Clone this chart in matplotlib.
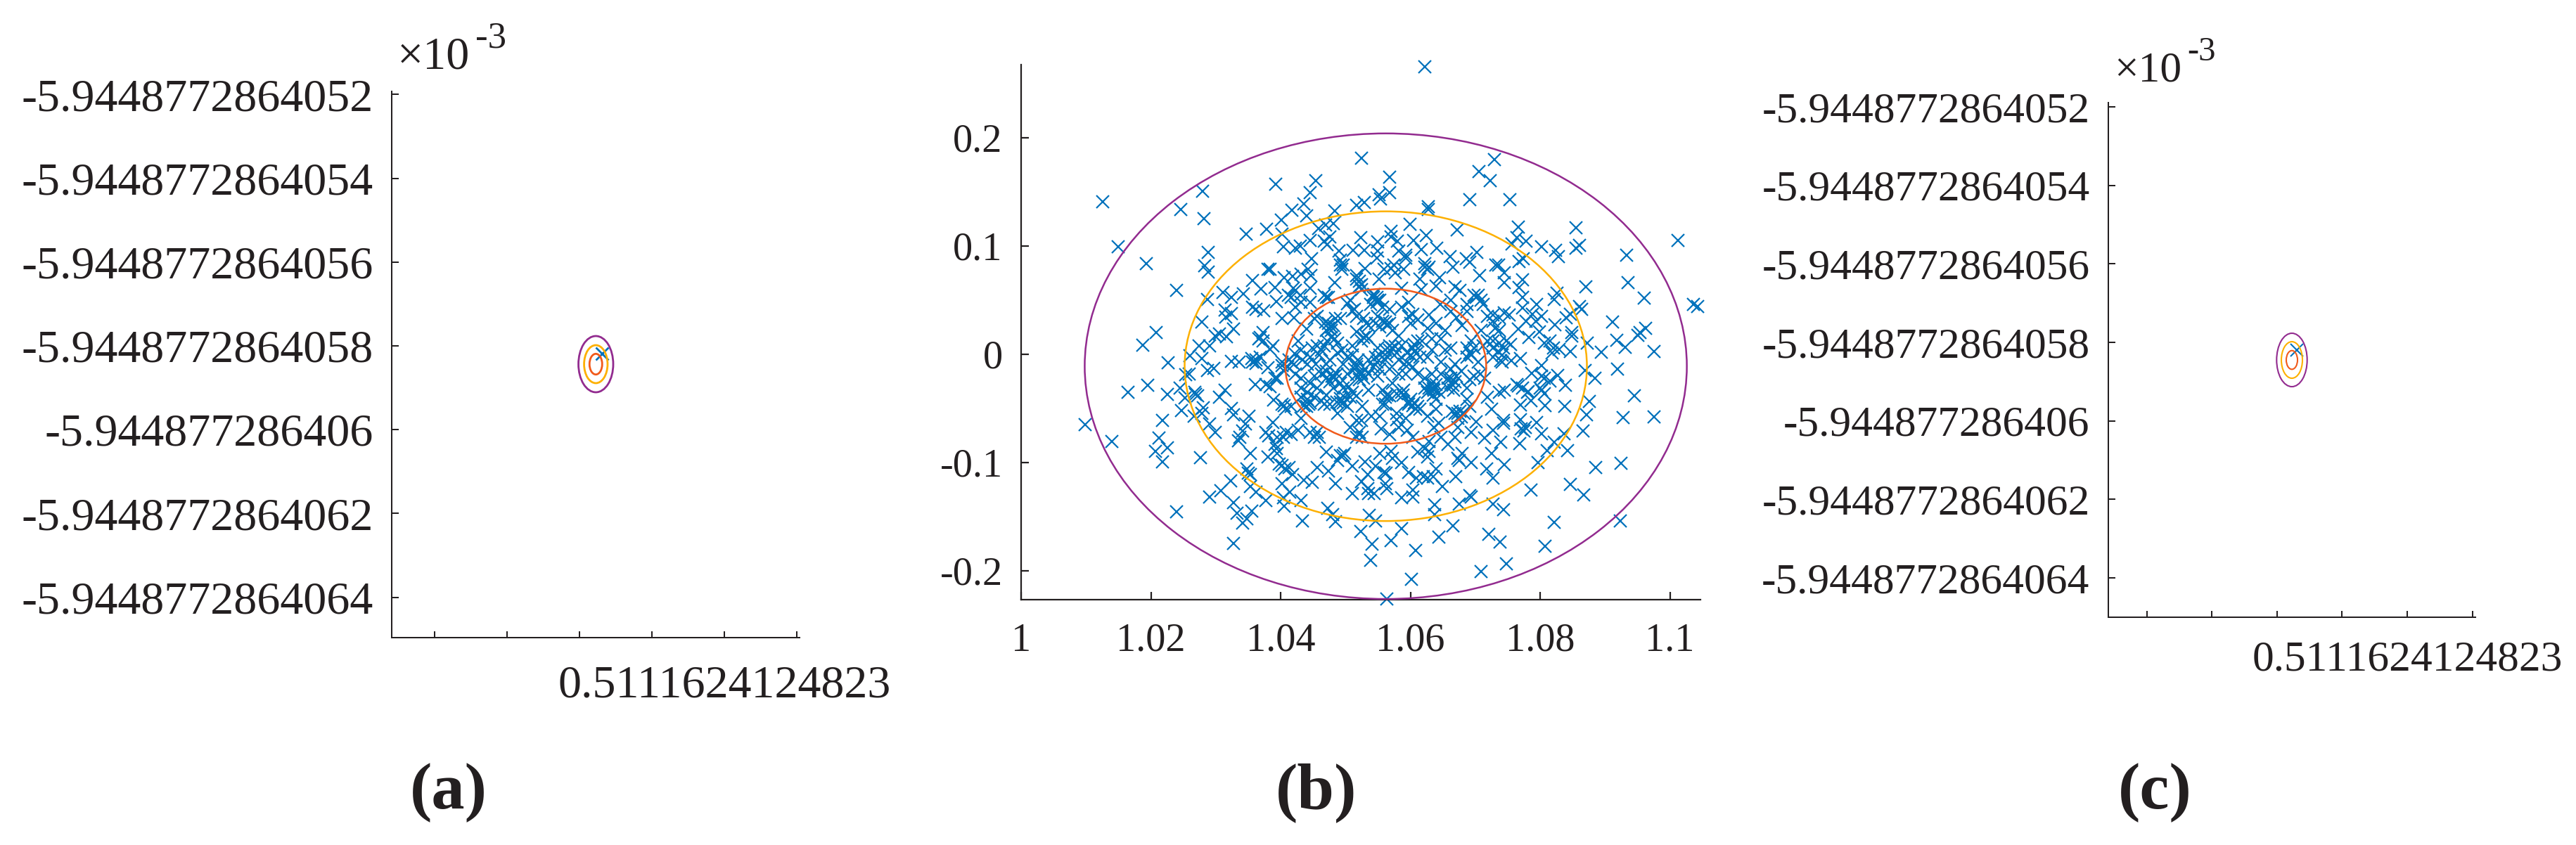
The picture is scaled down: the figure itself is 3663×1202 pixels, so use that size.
import numpy as np
import matplotlib
matplotlib.use('Agg')
import matplotlib.pyplot as plt
from matplotlib.patches import Ellipse

W, H = 3663, 1202
FONTE = ['Liberation Serif', 'DejaVu Serif']
PRETO = '#231F20'
AZUL = '#0072BC'
ROXO = '#922B8F'
AMARELO = '#FDB000'
LARANJA = '#F15A1B'

# paineis (a) e (c): eixos com rotulos fixos, valores relativos ao tick central
y_tick_vals = [6, 4, 2, 0, -2, -4, -6]
y_tick_labels = ['-5.9448772864052', '-5.9448772864054', '-5.9448772864056', '-5.9448772864058',
                 '-5.944877286406', '-5.9448772864062', '-5.9448772864064']
x_tick_vals = [-4, -3, -2, -1, 0, 1]
x_tick_labels = ['', '', '', '', '0.5111624124823', '']

centro_a = (-1.774, -0.436)
larguras_a = [0.480, 0.324, 0.175]
alturas_a = [1.342, 0.906, 0.493]
ponto_a = (-1.689, -0.185)

centro_c = (-1.771, -0.448)
larguras_c = [0.469, 0.324, 0.173]
alturas_c = [1.361, 0.931, 0.476]
ponto_c = (-1.695, -0.197)

# painel (b)
x_ticks_b = [1, 1.02, 1.04, 1.06, 1.08, 1.1]
x_labels_b = ['1', '1.02', '1.04', '1.06', '1.08', '1.1']
y_ticks_b = [0.2, 0.1, 0, -0.1, -0.2]
y_labels_b = ['0.2', '0.1', '0', '-0.1', '-0.2']
centro_b = (1.0562, -0.011)
larguras_b = [0.0928, 0.062, 0.03096]
alturas_b = [0.430, 0.286, 0.1432]

pontos_cima_esq = [
    (1.0126, .1406), (1.0150, .0991), (1.0193, .0837), (1.0280, .1504), (1.0246, .1335), (1.0282, .1250),
    (1.0288, .0941), (1.0283, .0815), (1.0288, .0757), (1.0239, .0588), (1.0287, .0508), (1.0279, .0296),
    (1.0208, .0203), (1.0392, .1569), (1.0401, .1242), (1.0378, .1155), (1.0347, .1107), (1.0402, .1107),
    (1.0404, .0995), (1.0380, .0787), (1.0384, .0783), (1.0357, .0679), (1.0370, .0605), (1.0391, .0616),
    (1.0405, .0707), (1.0311, .0571), (1.0324, .0523), (1.0342, .0560), (1.0393, .0486), (1.0357, .0436),
    (1.0362, .0415), (1.0374, .0404), (1.0314, .0410), (1.0324, .0378), (1.0315, .0345), (1.0402, .0328),
    (1.0327, .0231), (1.0373, .0198), (1.0306, .0187),
]
pontos_cima_meio = [
    (1.0622, .2656), (1.0525, .1811), (1.0568, .1638), (1.0454, .1601), (1.0446, .1491), (1.0706, .1686),
    (1.0723, .1601), (1.0729, .1800), (1.0691, .1428), (1.0568, .1491), (1.0552, .1476), (1.0554, .1437),
    (1.0529, .1404), (1.0517, .1378), (1.0483, .1324), (1.0436, .1389), (1.0417, .1328), (1.0440, .1276),
    (1.0628, .1363), (1.0628, .1335), (1.0599, .1199), (1.0672, .1146), (1.0570, .1134), (1.0570, .1086),
    (1.0624, .1097), (1.0523, .1075), (1.0549, .1038), (1.0580, .1043), (1.0605, .1053), (1.0641, .0978),
    (1.0481, .1205), (1.0458, .1162), (1.0469, .1194), (1.0445, .1053), (1.0467, .1043), (1.0423, .0978),
    (1.0430, .0999), (1.0476, .1086), (1.0472, .1010), (1.0448, .0880), (1.0490, .0956), (1.0512, .0962),
    (1.0529, .0962), (1.0550, .0956), (1.0582, .0956), (1.0617, .0967), (1.0593, .0891), (1.0661, .0902),
    (1.0702, .0941), (1.0686, .0880), (1.0691, .0848), (1.0666, .0804), (1.0707, .0729), (1.0732, .0826),
    (1.0622, .0804), (1.0629, .0804), (1.0590, .0783), (1.0570, .0794), (1.0548, .0891), (1.0492, .0869),
    (1.0494, .0783), (1.0530, .0794), (1.0559, .0783), (1.0577, .0750), (1.0442, .0783), (1.0447, .0729),
    (1.0431, .0740), (1.0418, .0718), (1.0483, .0664), (1.0521, .0675), (1.0552, .0696), (1.0586, .0610),
    (1.0615, .0696), (1.0645, .0707), (1.0617, .0599), (1.0640, .0631), (1.0669, .0620), (1.0676, .0588),
    (1.0419, .0610), (1.0430, .0545), (1.0412, .0545), (1.0474, .0523), (1.0467, .0545), (1.0507, .0501),
    (1.0543, .0523), (1.0548, .0480), (1.0597, .0480), (1.0646, .0458), (1.0662, .0501), (1.0701, .0523),
    (1.0709, .0501), (1.0687, .0458), (1.0445, .0480), (1.0423, .0436), (1.0514, .0415), (1.0568, .0415),
    (1.0586, .0436), (1.0604, .0371), (1.0629, .0361), (1.0671, .0339), (1.0719, .0350), (1.0456, .0350),
    (1.0492, .0328), (1.0517, .0350), (1.0550, .0350), (1.0561, .0296), (1.0535, .0263), (1.0474, .0242),
    (1.0600, .0285), (1.0626, .0242), (1.0680, .0263), (1.0727, .0306), (1.0730, .0242), (1.0440, .0231),
    (1.0420, .0339), (1.0478, .0252), (1.0709, .0220), (1.0654, .0220), (1.0517, .0209), (1.0572, .0220),
    (1.0521, .0631), (1.0525, .0599), (1.0543, .0555), (1.0548, .0523), (1.0553, .0501), (1.0474, .0285),
    (1.0470, .0220), (1.0481, .0263), (1.0557, .0306), (1.0564, .0274), (1.0532, .0285), (1.0593, .0913),
    (1.0622, .0837), (1.0626, .0783), (1.0705, .0545), (1.0727, .0361), (1.0470, .0523), (1.0423, .0588),
    (1.0492, .0826), (1.0517, .0729),
    (1.0544, .0555), (1.0550, .0501), (1.0539, .0458), (1.0557, .0436), (1.0469, .0296), (1.0478, .0220),
    (1.0485, .0328), (1.0503, .0469), (1.0510, .0404), (1.0528, .0328), (1.0546, .0285), (1.0553, .0252),
    (1.0568, .0285), (1.0597, .0350), (1.0611, .0317), (1.0640, .0285), (1.0662, .0393), (1.0698, .0545),
    (1.0687, .0393), (1.0712, .0458), (1.0431, .0480), (1.0416, .0523), (1.0445, .0610), (1.0452, .0328),
    (1.0496, .0826), (1.0517, .0696), (1.0525, .0642), (1.0574, .0826),
]
pontos_cima_dir = [
    (1.0753, .1426), (1.0766, .1172), (1.0764, .1075), (1.0756, .1021), (1.0778, .1043), (1.0802, .0995),
    (1.0855, .1166), (1.0861, .1004), (1.0855, .0978), (1.0824, .0962), (1.0828, .0902), (1.0933, .0913),
    (1.1012, .1049), (1.0774, .0880), (1.0767, .0859), (1.0736, .0826), (1.0745, .0755), (1.0745, .0664),
    (1.0773, .0685), (1.0767, .0614), (1.0935, .0664), (1.0870, .0625), (1.0826, .0562), (1.0822, .0506),
    (1.0960, .0519), (1.0773, .0523), (1.0773, .0426), (1.0795, .0458), (1.0864, .0415), (1.0861, .0443),
    (1.1036, .0464), (1.1043, .0441), (1.0847, .0371), (1.0840, .0335), (1.0788, .0371), (1.0802, .0350),
    (1.0793, .0306), (1.0778, .0306), (1.0745, .0382), (1.0752, .0361), (1.0737, .0339), (1.0823, .0274),
    (1.0911, .0296), (1.0962, .0242), (1.0954, .0198), (1.0766, .0231), (1.0799, .0209), (1.0849, .0198),
    (1.0737, .0220),
]
pontos_baixo_esq = [
    (1.0187, .0087), (1.0226, -.0078), (1.0260, -.0011), (1.0274, .0080), (1.0290, .0080), (1.0279, -.0039),
    (1.0299, .0167), (1.0317, .0162), (1.0297, -.0132), (1.0287, -.0147), (1.0254, -.0190), (1.0259, -.0184),
    (1.0324, -.0067), (1.0336, -.0071), (1.0355, -.0039), (1.0362, -.0082), (1.0369, -.0028), (1.0368, .0156),
    (1.0384, .0048), (1.0380, -.0125), (1.0361, -.0277), (1.0377, -.0277), (1.0384, -.0299), (1.0395, -.0223),
    (1.0402, -.0104), (1.0195, -.0284), (1.0165, -.0353), (1.0225, -.0368), (1.0245, -.0314), (1.0252, -.0401),
    (1.0269, -.0370), (1.0314, -.0331), (1.0306, -.0396), (1.0389, -.0422), (1.0324, -.0500), (1.0327, -.0558),
    (1.0281, -.0494), (1.0247, -.0520), (1.0267, -.0574), (1.0279, -.0548), (1.0351, -.0569), (1.0346, -.0645),
    (1.0218, -.0613), (1.0290, -.0645), (1.0299, -.0721), (1.0099, -.0652), (1.0140, -.0803), (1.0212, -.0771),
    (1.0225, -.0862), (1.0207, -.0894), (1.0218, -.0992), (1.0276, -.0953), (1.0337, -.0764), (1.0341, -.0710),
    (1.0335, -.0797), (1.0377, -.0721), (1.0388, -.0630), (1.0405, -.0472), (1.0382, -.0753), (1.0395, -.0764),
    (1.0404, -.0764), (1.0393, -.0872), (1.0353, -.0916), (1.0380, -.0948), (1.0398, -.1013), (1.0348, -.1057),
    (1.0353, -.1111), (1.0323, -.1171), (1.0402, -.1193), (1.0353, -.1219), (1.0362, -.1273), (1.0308, -.1262),
    (1.0291, -.1316), (1.0327, -.1370), (1.0377, -.1349), (1.0404, -.1327), (1.0405, -.1403), (1.0333, -.1468),
    (1.0356, -.1450), (1.0348, -.1522), (1.0341, -.1561), (1.0239, -.1457), (1.0327, -.1749),
    (1.0362, -.0050), (1.0357, -.0071), (1.0366, .0145), (1.0373, .0123), (1.0388, .0080), (1.0402, -.0071),
    (1.0404, -.0147), (1.0391, -.0223), (1.0402, -.0461), (1.0407, -.0504), (1.0391, -.0829), (1.0395, -.0916),
    (1.0402, -.1024), (1.0406, -.1057), (1.0350, -.1100), (1.0268, -.0353), (1.0272, -.0385),
]
pontos_baixo_meio = [
    (1.0564, -.2258), (1.0601, -.2081), (1.0709, -.2009), (1.0539, -.1901), (1.0608, -.1814), (1.0541, -.1756),
    (1.0570, -.1721), (1.0644, -.1687), (1.0523, -.1637), (1.0586, -.1609), (1.0666, -.1583), (1.0721, -.1663),
    (1.0433, -.1537), (1.0485, -.1544), (1.0546, -.1539), (1.0537, -.1489), (1.0473, -.1424), (1.0480, -.1479),
    (1.0637, -.1392), (1.0637, -.1479), (1.0675, -.1381), (1.0694, -.1316), (1.0691, -.1305), (1.0727, -.1381),
    (1.0431, -.1349), (1.0414, -.1273), (1.0511, -.1284), (1.0535, -.1284), (1.0544, -.1284), (1.0564, -.1240),
    (1.0586, -.1323), (1.0604, -.1316), (1.0604, -.1251), (1.0649, -.1219), (1.0485, -.1193), (1.0449, -.1182),
    (1.0436, -.1165), (1.0418, -.1111), (1.0456, -.1045), (1.0474, -.1078), (1.0510, -.1035), (1.0525, -.1175),
    (1.0534, -.1240), (1.0534, -.1111), (1.0530, -.0992), (1.0546, -.1035), (1.0559, -.1089), (1.0562, -.1100),
    (1.0561, -.1197), (1.0597, -.1089), (1.0586, -.1002), (1.0572, -.0959), (1.0609, -.1143), (1.0620, -.1132),
    (1.0626, -.1143), (1.0635, -.1132), (1.0640, -.1057), (1.0670, -.1132), (1.0694, -.1002), (1.0675, -.0981),
    (1.0718, -.1057), (1.0727, -.1143), (1.0725, -.0916), (1.0680, -.0916), (1.0658, -.0829), (1.0629, -.0894),
    (1.0611, -.0905), (1.0626, -.0948), (1.0470, -.0905), (1.0492, -.0937), (1.0499, -.0916), (1.0553, -.0916),
    (1.0570, -.0894), (1.0413, -.1046), (1.0452, -.0764), (1.0456, -.0721), (1.0427, -.0699), (1.0416, -.0742),
    (1.0409, -.0721), (1.0507, -.0678), (1.0525, -.0613), (1.0521, -.0721), (1.0555, -.0688), (1.0540, -.0569),
    (1.0579, -.0602), (1.0582, -.0678), (1.0595, -.0699), (1.0604, -.0764), (1.0636, -.0678), (1.0644, -.0634),
    (1.0647, -.0764), (1.0673, -.0678), (1.0694, -.0721), (1.0701, -.0623), (1.0714, -.0775), (1.0727, -.0699),
    (1.0725, -.0504), (1.0673, -.0548), (1.0488, -.0548), (1.0526, -.0483), (1.0416, -.0483), (1.0431, -.0591),
    (1.0443, -.0461), (1.0492, -.0440), (1.0507, -.0396), (1.0517, -.0385), (1.0467, -.0461), (1.0557, -.0461),
    (1.0568, -.0385), (1.0604, -.0472), (1.0615, -.0504), (1.0586, -.0353), (1.0636, -.0331), (1.0640, -.0418),
    (1.0662, -.0266), (1.0687, -.0418), (1.0691, -.0234), (1.0719, -.0396), (1.0714, -.0223), (1.0622, -.0310),
    (1.0479, -.0201), (1.0496, -.0310), (1.0525, -.0180), (1.0456, -.0310), (1.0431, -.0223), (1.0441, -.0353),
    (1.0441, -.0093), (1.0416, -.0071), (1.0463, .0037), (1.0488, .0015), (1.0510, .0080), (1.0528, .0156),
    (1.0478, .0156), (1.0427, .0123), (1.0546, -.0028), (1.0568, .0037), (1.0586, .0080), (1.0607, .0026),
    (1.0618, .0123), (1.0647, .0145), (1.0654, .0037), (1.0691, .0015), (1.0719, .0123), (1.0727, -.0028),
    (1.0597, -.0093), (1.0633, -.0180), (1.0662, -.0136), (1.0568, -.0136), (1.0550, -.0201), (1.0557, -.0331),
    (1.0517, -.0093), (1.0470, -.0093),
    (1.0470, -.0158), (1.0481, -.0201), (1.0487, -.0180), (1.0476, -.0255), (1.0517, -.0115), (1.0525, -.0169),
    (1.0528, -.0223), (1.0517, -.0191), (1.0561, .0037), (1.0572, .0058), (1.0579, .0015), (1.0564, -.0017),
    (1.0604, .0058), (1.0609, .0004), (1.0600, -.0006), (1.0629, -.0310), (1.0640, -.0277), (1.0635, -.0375),
    (1.0658, -.0223), (1.0665, -.0288), (1.0669, -.0255), (1.0597, -.0461), (1.0608, -.0504), (1.0600, -.0418),
    (1.0669, -.0548), (1.0676, -.0526), (1.0678, -.0580), (1.0413, -.0050), (1.0420, -.0093), (1.0411, -.0115),
    (1.0456, .0080), (1.0467, .0080), (1.0460, -.0006), (1.0532, .0167), (1.0525, .0123), (1.0535, .0145),
    (1.0499, -.0396), (1.0487, -.0440), (1.0503, -.0483), (1.0441, -.0418), (1.0445, -.0450), (1.0436, -.0472),
    (1.0561, -.0396), (1.0579, -.0364), (1.0626, -.0028), (1.0553, -.0136), (1.0582, -.0180), (1.0590, -.0331),
    (1.0611, -.0180), (1.0647, -.0071), (1.0669, -.0093), (1.0678, -.0158), (1.0694, -.0006), (1.0687, .0058),
    (1.0431, .0037), (1.0452, -.0201), (1.0445, -.0266), (1.0431, -.0310), (1.0423, -.0180), (1.0496, -.0093),
    (1.0503, -.0180), (1.0535, -.0050), (1.0550, .0058), (1.0582, .0167), (1.0633, .0145), (1.0572, -.0266),
    (1.0535, -.0331), (1.0481, -.0310), (1.0470, -.0375), (1.0510, -.0006), (1.0488, .0102), (1.0445, -.0028),
    (1.0705, -.0071), (1.0662, .0058), (1.0633, .0037), (1.0611, .0123), (1.0694, .0123), (1.0543, -.0115),
    (1.0593, -.0180),
    (1.0422, .0004), (1.0434, -.0050), (1.0449, .0058), (1.0454, -.0093), (1.0472, .0123), (1.0483, .0145),
    (1.0494, .0037), (1.0503, -.0028), (1.0476, -.0050), (1.0463, -.0180), (1.0472, -.0212), (1.0485, -.0234),
    (1.0492, -.0266), (1.0505, -.0299), (1.0510, -.0353), (1.0492, -.0407), (1.0496, -.0450), (1.0476, -.0461),
    (1.0463, -.0429), (1.0452, -.0396), (1.0431, -.0396), (1.0440, -.0483), (1.0519, -.0050), (1.0514, -.0136),
    (1.0530, -.0136), (1.0521, -.0234), (1.0535, -.0180), (1.0548, -.0071), (1.0553, -.0006), (1.0568, .0080),
    (1.0577, .0069), (1.0561, -.0050), (1.0582, -.0050), (1.0595, .0015), (1.0606, .0091), (1.0615, -.0028),
    (1.0591, -.0093), (1.0604, -.0115), (1.0622, -.0223), (1.0633, -.0266), (1.0626, -.0353), (1.0644, -.0353),
    (1.0635, -.0320), (1.0658, -.0310), (1.0662, -.0223), (1.0671, -.0201), (1.0647, -.0180), (1.0667, -.0331),
    (1.0687, -.0310), (1.0698, -.0201), (1.0708, -.0180), (1.0687, -.0028), (1.0698, .0058), (1.0712, .0080),
    (1.0727, .0123), (1.0727, .0058), (1.0597, -.0440), (1.0606, -.0450), (1.0611, -.0483), (1.0588, -.0375),
    (1.0564, -.0375), (1.0561, -.0461), (1.0664, -.0526), (1.0673, -.0591), (1.0683, -.0548), (1.0691, -.0483),
    (1.0640, -.0504), (1.0626, -.0569), (1.0579, -.0548), (1.0593, -.0591), (1.0553, -.0569), (1.0517, -.0613),
    (1.0517, -.0764), (1.0526, -.0764), (1.0568, -.0742), (1.0629, -.0807), (1.0669, -.0764), (1.0445, -.0721),
    (1.0460, -.0764), (1.0496, -.0937), (1.0488, -.0981), (1.0622, -.0872), (1.0673, -.0959),
]
pontos_baixo_dir = [
    (1.0782, .0156), (1.0815, .0123), (1.0849, .0167), (1.0873, .0102), (1.0918, .0130), (1.0950, .0178),
    (1.0931, .0065), (1.0894, .0022), (1.0976, .0026), (1.0846, .0026), (1.0818, .0015), (1.0829, .0048),
    (1.0919, -.0137), (1.0869, -.0147), (1.0884, -.0223), (1.0770, -.0039), (1.0754, .0091), (1.0741, -.0006),
    (1.0741, -.0071), (1.0755, -.0060), (1.0802, -.0104), (1.0787, -.0175), (1.0802, -.0201), (1.0815, -.0245),
    (1.0827, -.0197), (1.0839, -.0288), (1.0766, -.0292), (1.0745, -.0331), (1.0781, -.0342), (1.0802, -.0331),
    (1.0786, -.0429), (1.0876, -.0433), (1.0945, -.0381), (1.0769, -.0468), (1.0807, -.0476), (1.0838, -.0483),
    (1.0871, -.0558), (1.0928, -.0585), (1.0975, -.0576), (1.0770, -.0602), (1.0743, -.0634), (1.0794, -.0628),
    (1.0775, -.0710), (1.0802, -.0732), (1.0837, -.0732), (1.0866, -.0710), (1.0739, -.0812), (1.0768, -.0823),
    (1.0822, -.0812), (1.0811, -.0890), (1.0842, -.0888), (1.0797, -.1002), (1.0745, -.1020), (1.0885, -.1046),
    (1.0924, -.1007), (1.0846, -.1202), (1.0786, -.1256), (1.0867, -.1299), (1.0743, -.1435), (1.0822, -.1554),
    (1.0923, -.1537), (1.0738, -.1734), (1.0808, -.1775), (1.0748, -.1933),
    (1.0737, .0102), (1.0744, .0058), (1.0735, .0026), (1.0748, .0123), (1.0739, -.0060), (1.0806, .0102),
    (1.0820, .0058), (1.0780, -.0353), (1.0773, -.0310), (1.0764, -.0277), (1.0806, -.0223), (1.0800, -.0310),
    (1.0806, -.0364), (1.0777, -.0678), (1.0771, -.0689), (1.0743, -.0613), (1.0737, -.0353),
]
pontos_b = (pontos_cima_esq + pontos_cima_meio + pontos_cima_dir
            + pontos_baixo_esq + pontos_baixo_meio + pontos_baixo_dir)
x_b = [p[0] for p in pontos_b]
y_b = [p[1] for p in pontos_b]


def criar_eixo(fig, esq, topo, dir, base, lw, tick_len):
    # recebe a caixa em pixels da imagem
    ax = fig.add_axes([esq / W, 1 - base / H, (dir - esq) / W, (base - topo) / H])
    ax.spines['top'].set_visible(False)
    ax.spines['right'].set_visible(False)
    ax.spines['left'].set_linewidth(lw)
    ax.spines['bottom'].set_linewidth(lw)
    ax.spines['left'].set_color(PRETO)
    ax.spines['bottom'].set_color(PRETO)
    ax.tick_params(direction='in', length=tick_len * 0.72, width=lw, color=PRETO)
    return ax


def desenhar_elipses(ax, centro, larguras, alturas, lw):
    cores = [ROXO, AMARELO, LARANJA]
    for largura, altura, cor in zip(larguras, alturas, cores):
        ax.add_patch(Ellipse(centro, largura, altura, fill=False, edgecolor=cor, linewidth=lw,
                             clip_on=False, zorder=3))


def texto_px(fig, x, y, s, **kw):
    fig.text(x / W, 1 - y / H, s, family=FONTE, color=PRETO, **kw)


def painel_zoom(fig, caixa, xlim, ylim, centro, larguras, alturas, ponto, tam, lw_elipse, pad_y, pad_x):
    ax = criar_eixo(fig, *caixa, 1.45, 9.5)
    ax.set_xlim(*xlim)
    ax.set_ylim(*ylim)
    ax.set_xticks(x_tick_vals, x_tick_labels, family=FONTE, fontsize=tam, color=PRETO)
    ax.set_yticks(y_tick_vals, y_tick_labels, family=FONTE, fontsize=tam, color=PRETO)
    ax.tick_params(axis='y', pad=pad_y)
    ax.tick_params(axis='x', pad=pad_x)
    desenhar_elipses(ax, centro, larguras, alturas, lw_elipse)
    ax.plot([ponto[0]], [ponto[1]], 'x', color=AZUL, ms=13, mew=lw_elipse, zorder=2)
    return ax


fig = plt.figure(figsize=(W / 100, H / 100), dpi=100, facecolor='white')

# (a)
painel_zoom(fig, (557, 130, 1137, 907), (-4.592, 1.039), (-6.963, 6.074),
            centro_a, larguras_a, alturas_a, ponto_a, 47.5, 2.0, 19, 28)
texto_px(fig, 565, 97, '×10', fontsize=47.5, ha='left', va='baseline')
texto_px(fig, 676, 67, '-3', fontsize=38, ha='left', va='baseline')
texto_px(fig, 638, 1150, '(a)', fontsize=68, fontweight='bold', ha='center', va='baseline')

# (b)
ax_b = criar_eixo(fig, 1452, 92, 2418, 852.5, 1.6, 11.5)
ax_b.set_xlim(1.0, 1.1047)
ax_b.set_ylim(-0.2263, 0.2675)
ax_b.set_xticks(x_ticks_b, x_labels_b, family=FONTE, fontsize=40.5, color=PRETO)
ax_b.set_yticks(y_ticks_b, y_labels_b, family=FONTE, fontsize=40.5, color=PRETO)
ax_b.tick_params(axis='y', pad=19)
ax_b.tick_params(axis='x', pad=24)
ax_b.plot(x_b, y_b, 'x', color=AZUL, ms=13, mew=1.6, clip_on=False, zorder=2)
desenhar_elipses(ax_b, centro_b, larguras_b, alturas_b, 1.8)
texto_px(fig, 1872, 1150, '(b)', fontsize=68, fontweight='bold', ha='center', va='baseline')

# (c)
painel_zoom(fig, (2998, 146, 3520, 878), (-4.59, 1.048), (-7.003, 6.108),
            centro_c, larguras_c, alturas_c, ponto_c, 44.3, 1.5, 19, 24)
texto_px(fig, 3006, 116, '×10', fontsize=44.3, ha='left', va='baseline')
texto_px(fig, 3110, 86, '-3', fontsize=35, ha='left', va='baseline')
texto_px(fig, 3064, 1150, '(c)', fontsize=68, fontweight='bold', ha='center', va='baseline')

fig.savefig('out.png', dpi=100, facecolor='white')
